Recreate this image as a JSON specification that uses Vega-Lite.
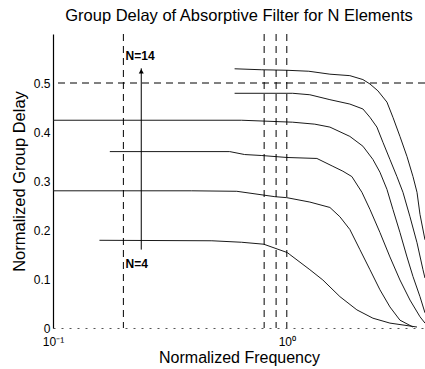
{
  "$schema": "https://vega.github.io/schema/vega-lite/v6.json",
  "width": 372,
  "height": 294,
  "autosize": {"type": "none"},
  "padding": {"left": 53, "top": 34, "right": 0, "bottom": 41},
  "config": {"view": {"stroke": null}, "font": "Liberation Sans"},
  "title": {"text": "Group Delay of Absorptive Filter for N Elements", "fontSize": 16.5, "fontWeight": "normal", "offset": 9, "color": "black", "font": "Liberation Sans"},
  "datasets": {
    "curves": [
      {"N": 4, "f": 0.158, "d": 0.179}, {"N": 4, "f": 0.478, "d": 0.178}, {"N": 4, "f": 0.641, "d": 0.175}, {"N": 4, "f": 0.797, "d": 0.171}, {"N": 4, "f": 1.004, "d": 0.154}, {"N": 4, "f": 1.03, "d": 0.15}, {"N": 4, "f": 1.255, "d": 0.119}, {"N": 4, "f": 1.426, "d": 0.098}, {"N": 4, "f": 1.687, "d": 0.064}, {"N": 4, "f": 1.994, "d": 0.037}, {"N": 4, "f": 2.335, "d": 0.02}, {"N": 4, "f": 2.761, "d": 0.01}, {"N": 4, "f": 3.605, "d": 0.002},
      {"N": 6, "f": 0.1, "d": 0.28}, {"N": 6, "f": 0.392, "d": 0.28}, {"N": 6, "f": 0.611, "d": 0.279}, {"N": 6, "f": 0.889, "d": 0.268}, {"N": 6, "f": 1.0, "d": 0.266}, {"N": 6, "f": 1.255, "d": 0.257}, {"N": 6, "f": 1.529, "d": 0.246}, {"N": 6, "f": 1.687, "d": 0.227}, {"N": 6, "f": 1.861, "d": 0.201}, {"N": 6, "f": 2.054, "d": 0.16}, {"N": 6, "f": 2.268, "d": 0.119}, {"N": 6, "f": 2.502, "d": 0.078}, {"N": 6, "f": 2.761, "d": 0.043}, {"N": 6, "f": 3.047, "d": 0.016}, {"N": 6, "f": 3.465, "d": 0.002},
      {"N": 8, "f": 0.175, "d": 0.36}, {"N": 8, "f": 0.57, "d": 0.36}, {"N": 8, "f": 0.66, "d": 0.354}, {"N": 8, "f": 0.782, "d": 0.352}, {"N": 8, "f": 1.0, "d": 0.348}, {"N": 8, "f": 1.345, "d": 0.346}, {"N": 8, "f": 1.574, "d": 0.33}, {"N": 8, "f": 1.737, "d": 0.32}, {"N": 8, "f": 1.898, "d": 0.309}, {"N": 8, "f": 2.095, "d": 0.277}, {"N": 8, "f": 2.268, "d": 0.242}, {"N": 8, "f": 2.502, "d": 0.195}, {"N": 8, "f": 2.761, "d": 0.145}, {"N": 8, "f": 3.047, "d": 0.098}, {"N": 8, "f": 3.364, "d": 0.057}, {"N": 8, "f": 3.712, "d": 0.023}, {"N": 8, "f": 3.899, "d": 0.01},
      {"N": 10, "f": 0.1, "d": 0.424}, {"N": 10, "f": 0.641, "d": 0.424}, {"N": 10, "f": 1.06, "d": 0.42}, {"N": 10, "f": 1.318, "d": 0.416}, {"N": 10, "f": 1.529, "d": 0.41}, {"N": 10, "f": 1.861, "d": 0.391}, {"N": 10, "f": 2.116, "d": 0.371}, {"N": 10, "f": 2.335, "d": 0.344}, {"N": 10, "f": 2.502, "d": 0.318}, {"N": 10, "f": 2.681, "d": 0.283}, {"N": 10, "f": 2.844, "d": 0.242}, {"N": 10, "f": 3.047, "d": 0.195}, {"N": 10, "f": 3.266, "d": 0.145}, {"N": 10, "f": 3.465, "d": 0.105}, {"N": 10, "f": 3.712, "d": 0.064}, {"N": 10, "f": 3.899, "d": 0.031},
      {"N": 12, "f": 0.598, "d": 0.479}, {"N": 12, "f": 1.06, "d": 0.479}, {"N": 12, "f": 1.255, "d": 0.476}, {"N": 12, "f": 1.529, "d": 0.466}, {"N": 12, "f": 1.861, "d": 0.457}, {"N": 12, "f": 2.116, "d": 0.447}, {"N": 12, "f": 2.268, "d": 0.43}, {"N": 12, "f": 2.429, "d": 0.41}, {"N": 12, "f": 2.577, "d": 0.379}, {"N": 12, "f": 2.761, "d": 0.344}, {"N": 12, "f": 2.958, "d": 0.309}, {"N": 12, "f": 3.139, "d": 0.277}, {"N": 12, "f": 3.364, "d": 0.227}, {"N": 12, "f": 3.605, "d": 0.174}, {"N": 12, "f": 3.823, "d": 0.119}, {"N": 12, "f": 3.899, "d": 0.102},
      {"N": 14, "f": 0.598, "d": 0.529}, {"N": 14, "f": 0.782, "d": 0.527}, {"N": 14, "f": 1.0, "d": 0.526}, {"N": 14, "f": 1.242, "d": 0.524}, {"N": 14, "f": 1.529, "d": 0.518}, {"N": 14, "f": 1.861, "d": 0.515}, {"N": 14, "f": 2.116, "d": 0.507}, {"N": 14, "f": 2.268, "d": 0.498}, {"N": 14, "f": 2.453, "d": 0.484}, {"N": 14, "f": 2.681, "d": 0.461}, {"N": 14, "f": 2.844, "d": 0.43}, {"N": 14, "f": 3.047, "d": 0.391}, {"N": 14, "f": 3.266, "d": 0.35}, {"N": 14, "f": 3.465, "d": 0.309}, {"N": 14, "f": 3.605, "d": 0.277}, {"N": 14, "f": 3.712, "d": 0.232}, {"N": 14, "f": 3.899, "d": 0.18}
    ],
    "vlines": [{"f": 0.2}, {"f": 0.8}, {"f": 0.9}, {"f": 1.0}],
    "hlines": [{"d": 0.5}],
    "arrow": [{"f": 0.2385, "d": 0.16, "d2": 0.53}],
    "arrowhead": [{"f": 0.2385, "d": 0.524}],
    "labels": [{"f": 0.2044, "d": 0.556, "text": "N=14"}, {"f": 0.2044, "d": 0.13, "text": "N=4"}]
  },
  "layer": [
    {
      "data": {"name": "curves"},
      "mark": {"type": "line", "color": "#1a1a1a", "strokeWidth": 1, "clip": true},
      "encoding": {
        "x": {"field": "f", "type": "quantitative",
              "scale": {"type": "log", "domain": [0.1, 3.9], "nice": false},
              "axis": {"title": "Normalized Frequency", "values": [0.1, 1], "labelExpr": "datum.value < 0.5 ? '10⁻¹' : '10⁰'", "ticks": false, "grid": false, "domain": true, "domainColor": "#555", "domainDash": [2, 6], "labelFontSize": 12, "labelColor": "black", "labelPadding": 8, "titleFontSize": 16, "titleFontWeight": "normal", "titleColor": "black", "titlePadding": 2, "labelFlush": false}},
        "y": {"field": "d", "type": "quantitative",
              "scale": {"domain": [0, 0.6], "nice": false},
              "axis": {"title": "Normalized Group Delay", "values": [0, 0.1, 0.2, 0.3, 0.4, 0.5], "labelExpr": "datum.value == 0 ? '0' : format(datum.value, '.1f')", "ticks": false, "grid": false, "domainColor": "black", "domainWidth": 1.2, "labelFontSize": 12, "labelColor": "black", "labelPadding": 3, "titleFontSize": 16.5, "titleFontWeight": "normal", "titleColor": "black", "titlePadding": 6, "labelFlush": false}},
        "detail": {"field": "N", "type": "nominal"}
      }
    },
    {
      "data": {"name": "vlines"},
      "mark": {"type": "rule", "color": "black", "strokeWidth": 1, "strokeDash": [7, 5]},
      "encoding": {"x": {"field": "f", "type": "quantitative"}}
    },
    {
      "data": {"name": "hlines"},
      "mark": {"type": "rule", "color": "black", "strokeWidth": 1, "strokeDash": [7, 5]},
      "encoding": {"y": {"field": "d", "type": "quantitative"}}
    },
    {
      "data": {"name": "arrow"},
      "mark": {"type": "rule", "color": "black", "strokeWidth": 1},
      "encoding": {"x": {"field": "f", "type": "quantitative"}, "y": {"field": "d", "type": "quantitative"}, "y2": {"field": "d2"}}
    },
    {
      "data": {"name": "arrowhead"},
      "mark": {"type": "point", "shape": "triangle-up", "filled": true, "color": "black", "size": 25, "opacity": 1},
      "encoding": {"x": {"field": "f", "type": "quantitative"}, "y": {"field": "d", "type": "quantitative"}}
    },
    {
      "data": {"name": "labels"},
      "mark": {"type": "text", "align": "left", "baseline": "middle", "fontSize": 12, "fontWeight": "bold", "color": "black"},
      "encoding": {"x": {"field": "f", "type": "quantitative"}, "y": {"field": "d", "type": "quantitative"}, "text": {"field": "text"}}
    }
  ]
}
